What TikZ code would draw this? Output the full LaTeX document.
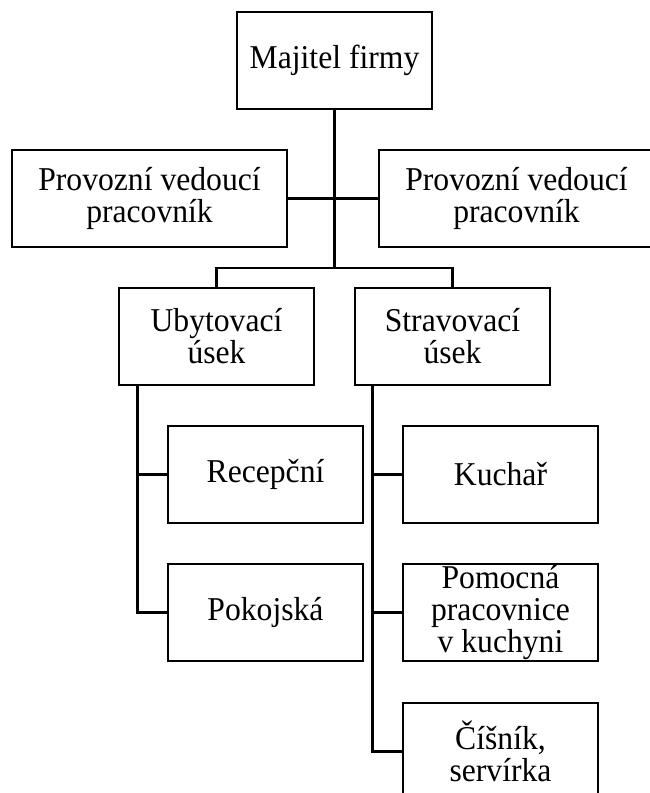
\documentclass[tikz,border=0pt]{standalone}
\usepackage{fontspec}
\setmainfont{Liberation Serif}[FakeStretch=0.95]
\begin{document}
\begin{tikzpicture}[x=1pt,y=-1pt,
  box/.style={draw, line width=2.6pt, inner sep=0pt, align=center,
    minimum width=195pt, minimum height=97pt,
    font=\fontsize{33.3}{32}\selectfont},
  widebox/.style={box, minimum width=275pt},
  conn/.style={line width=2.6pt}]
\useasboundingbox (0,0) rectangle (650,793);
\clip (0,0) rectangle (650,793);
\node[box] (maj) at (334.5,60.5) {Majitel firmy};
\node[widebox] (pl) at (149.5,198.5) {Provozní vedoucí\\pracovník};
\node[widebox] (pr) at (516.5,198.5) {Provozní vedoucí\\pracovník};
\node[box] (uby) at (216.5,336.5) {Ubytovací\\úsek};
\node[box] (str) at (452.5,336.5) {Stravovací\\úsek};
\node[box] (rec) at (265.5,474.5) {Recepční};
\node[box] (pok) at (265.5,612.5) {Pokojská};
\node[box] (kuc) at (500.5,474.5) {Kuchař};
\node[box] (pom) at (500.5,612.5) {Pomocná\\pracovnice\\v kuchyni};
\node[box] (cis) at (500.5,751.5) {Číšník,\\servírka};
\coordinate (bar) at (334.5,268);
\coordinate (ls) at ([xshift=20pt]uby.south west);
\coordinate (rs) at ([xshift=19pt]str.south west);
\draw[conn] (maj.south) -- (bar);
\draw[conn] (pl.east) -- (pr.west);
\draw[conn] (uby.north) |- (bar) -| (str.north);
\draw[conn] (ls) |- (rec.west);
\draw[conn] (ls) |- (pok.west);
\draw[conn] (rs) |- (kuc.west);
\draw[conn] (rs) |- (pom.west);
\draw[conn] (rs) |- (cis.west);
\end{tikzpicture}
\end{document}
